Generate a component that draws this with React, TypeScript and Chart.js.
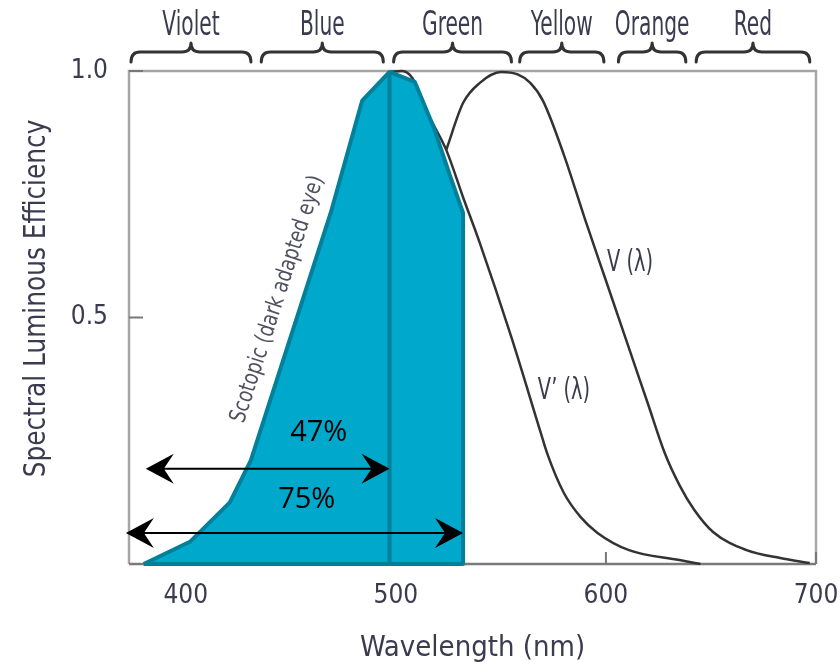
import { useEffect, useRef } from "react";
import { Chart, registerables } from "chart.js";

Chart.register(...registerables);

// ---------- data ----------
const xTicks = [400, 500, 600, 700];
const yTicks = [0.5, 1.0];
const xAxisMin = 373;
const xAxisMax = 700;
const xTitle = "Wavelength (nm)";
const yTitle = "Spectral Luminous Efficiency";

// Photopic V(λ)
const photopicNm = [524, 532, 540, 550, 558, 564, 570, 580, 590, 600, 610, 620, 628, 635, 642, 651, 667, 683, 697];
const photopicVal = [0.84, 0.935, 0.976, 0.998, 0.993, 0.976, 0.94, 0.83, 0.7, 0.575, 0.45, 0.325, 0.225, 0.16, 0.11, 0.065, 0.028, 0.012, 0.002];

// Scotopic V'(λ) outline (visible part)
const scotopicNm = [497, 503, 508, 516, 524, 532, 540, 555, 569, 572, 580, 588, 596, 611, 635, 645];
const scotopicVal = [0.998, 1.0, 0.985, 0.907, 0.84, 0.744, 0.651, 0.46, 0.266, 0.225, 0.144, 0.095, 0.063, 0.028, 0.008, 0.0];

// Shaded scotopic area (polygon)
const areaNm = [380, 402, 421, 431, 469, 484, 497, 509, 518, 526, 532, 532, 380];
const areaVal = [0, 0.045, 0.125, 0.21, 0.712, 0.94, 0.998, 0.978, 0.886, 0.785, 0.712, 0, 0];

// Divider at ~500 nm
const dividerNm = [497, 497];
const dividerVal = [0, 0.998];

// Colour bands
const bandNames = ["Violet", "Blue", "Green", "Yellow", "Orange", "Red"];
const bandStart = [373, 435, 498, 558, 605, 642];
const bandEnd = [432, 495, 556, 600, 639, 698];

// Percent arrows
const arrowLabels = ["47%", "75%"];
const arrowFrom = [381, 371.5];
const arrowTo = [497, 532];
const arrowLevel = [0.193, 0.063];
const arrowLabelNm = [463.3, 457.6];
const arrowLabelVal = [0.266, 0.13];

// Curve labels
const curveLabels = ["V (\u03bb)", "V\u2019 (\u03bb)"];
const curveLabelNm = [600.5, 567.6];
const curveLabelVal = [0.61, 0.35];

const scotopicNote = "Scotopic (dark adapted eye)";
const scotopicNoteNm = 443.8;
const scotopicNoteVal = 0.537;

// ---------- styles ----------
const COND = "'DejaVu Sans Condensed', 'Liberation Sans Narrow', 'Arial Narrow', sans-serif";
const TEXT = "#3b3b50";
const FILL = "#00a8cc";
const EDGE = "#00809a";
const CURVE = "#333333";

const toPts = (xs: number[], ys: number[]) => xs.map((x, i) => ({ x, y: ys[i] }));

function condText(ctx: CanvasRenderingContext2D, text: string, x: number, y: number, size: number, sx: number, align: CanvasTextAlign, rot = 0) {
  ctx.save();
  ctx.translate(x, y);
  if (rot) ctx.rotate(rot);
  ctx.scale(sx, 1);
  ctx.font = `${size}px ${COND}`;
  ctx.textAlign = align;
  ctx.textBaseline = "middle";
  ctx.fillText(text, 0, 0);
  ctx.restore();
}

function arrowHead(ctx: CanvasRenderingContext2D, tip: number, yy: number, dir: number) {
  ctx.beginPath();
  ctx.moveTo(tip, yy);
  ctx.lineTo(tip - dir * 28, yy - 15);
  ctx.lineTo(tip - dir * 18, yy);
  ctx.lineTo(tip - dir * 28, yy + 15);
  ctx.closePath();
  ctx.fill();
}

const annotate = {
  id: "annotate",
  beforeDatasetsDraw(chart: any) {
    const { ctx, chartArea: a, scales } = chart;
    const x = scales.x, y = scales.y;
    ctx.save();
    ctx.lineWidth = 2.5;
    ctx.strokeStyle = "#a6a6a6";
    ctx.beginPath();
    ctx.moveTo(a.left, a.bottom);
    ctx.lineTo(a.left, a.top);
    ctx.lineTo(a.right, a.top);
    ctx.lineTo(a.right, a.bottom);
    ctx.stroke();
    ctx.strokeStyle = "#7a7a7a";
    ctx.beginPath();
    ctx.moveTo(a.left, a.bottom);
    ctx.lineTo(a.right, a.bottom);
    ctx.stroke();
    ctx.lineWidth = 2;
    ctx.strokeStyle = "#777";
    xTicks.forEach((v) => {
      const px = x.getPixelForValue(v);
      ctx.beginPath();
      ctx.moveTo(px, a.bottom);
      ctx.lineTo(px, a.bottom - 12);
      ctx.stroke();
    });
    yTicks.forEach((v) => {
      const py = y.getPixelForValue(v);
      ctx.beginPath();
      ctx.moveTo(a.left, py);
      ctx.lineTo(a.left + 14, py);
      ctx.stroke();
    });
    ctx.restore();
  },
  afterDatasetsDraw(chart: any) {
    const { ctx, chartArea: a, scales } = chart;
    const x = scales.x, y = scales.y;
    ctx.save();

    // y axis title
    ctx.fillStyle = TEXT;
    condText(ctx, yTitle, 37, (a.top + a.bottom) / 2 - 19, 30, 0.92, "center", -Math.PI / 2);

    // braces + band labels
    const yLine = a.top - 19, yEnd = a.top - 9, yTip = a.top - 28, r = 9;
    ctx.strokeStyle = "#333";
    ctx.lineWidth = 3;
    ctx.lineJoin = "round";
    ctx.lineCap = "round";
    ctx.fillStyle = TEXT;
    bandNames.forEach((name, i) => {
      const xa = x.getPixelForValue(bandStart[i]) + 2;
      const xb = x.getPixelForValue(bandEnd[i]) - 2;
      const xm = (xa + xb) / 2;
      ctx.beginPath();
      ctx.moveTo(xa, yEnd);
      ctx.quadraticCurveTo(xa, yLine, xa + r, yLine);
      ctx.lineTo(xm - r, yLine);
      ctx.quadraticCurveTo(xm, yLine, xm, yTip);
      ctx.quadraticCurveTo(xm, yLine, xm + r, yLine);
      ctx.lineTo(xb - r, yLine);
      ctx.quadraticCurveTo(xb, yLine, xb, yEnd);
      ctx.stroke();
      condText(ctx, name, xm, a.top - 45, 34, 0.66, "center");
    });

    // arrows
    ctx.strokeStyle = "#000";
    ctx.fillStyle = "#000";
    ctx.lineWidth = 2;
    arrowLabels.forEach((lab, i) => {
      const x1 = x.getPixelForValue(arrowFrom[i]);
      const x2 = x.getPixelForValue(arrowTo[i]);
      const yy = y.getPixelForValue(arrowLevel[i]);
      ctx.beginPath();
      ctx.moveTo(x1 + 10, yy);
      ctx.lineTo(x2 - 10, yy);
      ctx.stroke();
      arrowHead(ctx, x1, yy, -1);
      arrowHead(ctx, x2, yy, 1);
      ctx.font = "29px 'Open Sans', 'Noto Sans', sans-serif";
      ctx.textAlign = "center";
      ctx.textBaseline = "middle";
      ctx.fillText(lab, x.getPixelForValue(arrowLabelNm[i]), y.getPixelForValue(arrowLabelVal[i]));
    });

    // curve labels
    ctx.fillStyle = TEXT;
    curveLabels.forEach((lab, i) => {
      condText(ctx, lab, x.getPixelForValue(curveLabelNm[i]), y.getPixelForValue(curveLabelVal[i]), 30, 0.72, "left");
    });

    // scotopic note
    ctx.fillStyle = "#505060";
    condText(ctx, scotopicNote, x.getPixelForValue(scotopicNoteNm), y.getPixelForValue(scotopicNoteVal), 23, 0.88, "center", (-72 * Math.PI) / 180);

    ctx.restore();
  },
};

export default function App() {
  const ref = useRef<HTMLCanvasElement | null>(null);
  useEffect(() => {
    document.body.style.margin = "0";
    const canvas = ref.current;
    if (!canvas) return;
    const chart = new Chart(canvas, {
      type: "line",
      data: {
        datasets: [
          {
            label: "divider",
            data: toPts(dividerNm, dividerVal),
            borderColor: EDGE,
            borderWidth: 4,
            pointRadius: 0,
            fill: false,
            clip: false as any,
          },
          {
            label: "Scotopic area",
            data: toPts(areaNm, areaVal),
            borderColor: EDGE,
            backgroundColor: FILL,
            borderWidth: 4,
            borderJoinStyle: "round",
            pointRadius: 0,
            tension: 0,
            fill: "shape",
            clip: false as any,
          },
          {
            label: "V'(λ)",
            data: toPts(scotopicNm, scotopicVal),
            borderColor: CURVE,
            borderWidth: 2.5,
            pointRadius: 0,
            cubicInterpolationMode: "monotone",
            fill: false,
            clip: false as any,
          },
          {
            label: "V(λ)",
            data: toPts(photopicNm, photopicVal),
            borderColor: CURVE,
            borderWidth: 2.5,
            pointRadius: 0,
            cubicInterpolationMode: "monotone",
            fill: false,
            clip: false as any,
          },
        ],
      },
      options: {
        animation: false,
        responsive: false,
        devicePixelRatio: 1,
        events: [],
        layout: { padding: { top: 71, right: 24, left: 0, bottom: 0 } },
        plugins: { legend: { display: false }, tooltip: { enabled: false } },
        scales: {
          x: {
            type: "linear",
            min: xAxisMin,
            max: xAxisMax,
            afterBuildTicks: (s: any) => {
              s.ticks = xTicks.map((v) => ({ value: v }));
            },
            afterFit: (s: any) => {
              s.height = 108;
              s.paddingLeft = 0;
              s.paddingRight = 0;
            },
            grid: { display: false, drawTicks: false },
            border: { display: false },
            ticks: { padding: 17, color: TEXT, font: { family: COND, size: 26 } },
            title: {
              display: true,
              text: xTitle,
              color: TEXT,
              font: { family: COND, size: 29 },
              padding: { top: 0, bottom: 6 },
            },
          },
          y: {
            type: "linear",
            min: 0,
            max: 1,
            afterBuildTicks: (s: any) => {
              s.ticks = yTicks.map((v) => ({ value: v }));
            },
            afterFit: (s: any) => {
              s.width = 129;
            },
            grid: { display: false, drawTicks: false },
            border: { display: false },
            ticks: {
              padding: 21,
              color: TEXT,
              font: { family: COND, size: 26 },
              callback: (v: any) => Number(v).toFixed(1),
            },
            title: { display: false, text: yTitle },
          },
        },
      },
      plugins: [annotate],
    });
    return () => chart.destroy();
  }, []);
  return (
    <div style={{ width: 840, height: 672 }}>
      <canvas ref={ref} width={840} height={672} style={{ display: "block" }} />
    </div>
  );
}
